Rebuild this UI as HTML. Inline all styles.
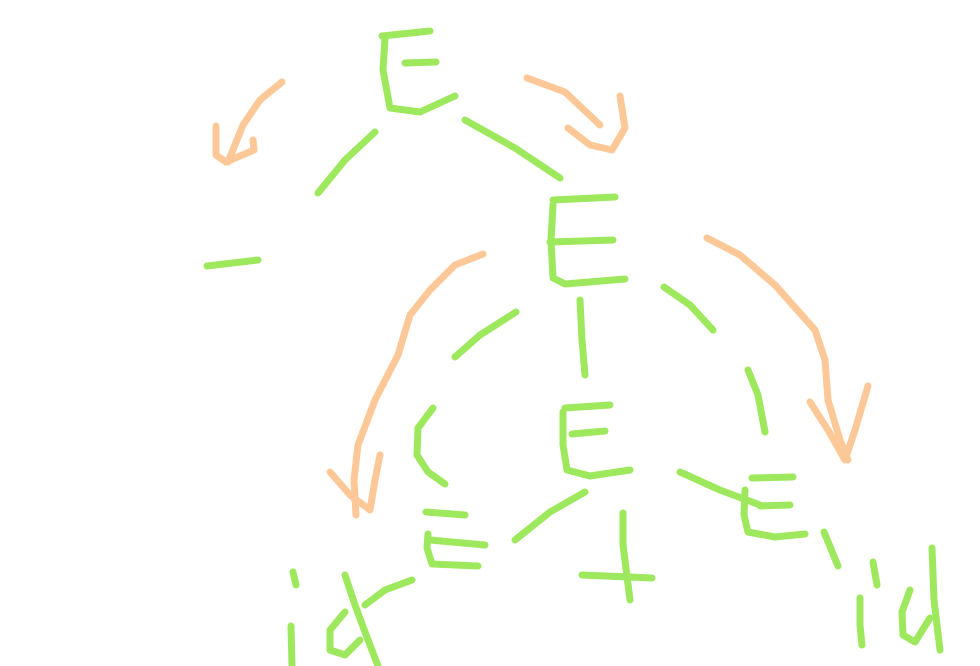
<!DOCTYPE html>
<html><head><meta charset="utf-8"><style>
html,body{margin:0;padding:0;background:#fff;width:980px;height:666px;overflow:hidden}
svg{display:block}
.g{stroke:#9ee85e;fill:none;stroke-width:7;stroke-linecap:round;stroke-linejoin:round}
.o{stroke:#fdc898;fill:none;stroke-width:7;stroke-linecap:round;stroke-linejoin:round}
.t{fill:#fff;fill-opacity:0;font-family:"Liberation Sans",sans-serif;font-size:20px}
</style></head><body>
<svg width="980" height="666" viewBox="0 0 980 666">
<g>
<text class="t" x="400" y="80">E</text>
<polyline class="g" points="382,36 430,31"/>
<polyline class="g" points="385,38 383,70 390,108 420,112 455,96"/>
<polyline class="g" points="405,63 436,62"/>
</g>
<polyline class="g" points="375,132 345,160 318,193"/>
<polyline class="g" points="465,120 515,148 560,178"/>
<g>
<polyline class="o" points="282,82 260,100 243,125 228,162"/>
<polyline class="o" points="216,126 216,155 226,162 254,150 253,140"/>
</g>
<g>
<polyline class="o" points="527,78 565,92 600,125"/>
<polyline class="o" points="568,128 590,145 612,150 625,128 620,96"/>
</g>
<g>
<text class="t" x="220" y="270">-</text>
<polyline class="g" points="207,266 258,260"/>
</g>
<g>
<text class="t" x="570" y="245">E</text>
<polyline class="g" points="553,200 615,197"/>
<polyline class="g" points="553,205 551,240 553,278 565,284 625,279"/>
<polyline class="g" points="550,242 613,240"/>
</g>
<polyline class="g" points="516,312 480,335 455,357"/>
<polyline class="g" points="580,300 582,340 585,375"/>
<polyline class="g" points="664,287 690,305 713,330"/>
<polyline class="g" points="748,370 758,395 765,432"/>
<g>
<polyline class="o" points="483,254 455,265 430,290 410,315 398,355 375,400 358,445 354,480 356,515"/>
<polyline class="o" points="330,472 350,495 370,510 375,480 380,455"/>
</g>
<g>
<polyline class="o" points="707,238 740,255 775,285 815,330 825,360 828,400 840,440 848,460"/>
<polyline class="o" points="810,402 828,430 845,460 855,430 868,386"/>
</g>
<g>
<text class="t" x="420" y="450">(</text>
<polyline class="g" points="433,408 418,428 417,455 428,472 445,484"/>
</g>
<g>
<text class="t" x="580" y="440">E</text>
<polyline class="g" points="565,408 610,405"/>
<polyline class="g" points="563,412 563,445 567,470 590,476 630,470"/>
<polyline class="g" points="572,434 605,431"/>
</g>
<polyline class="g" points="585,492 550,512 515,540"/>
<polyline class="g" points="680,472 720,490 760,505"/>
<g>
<text class="t" x="760" y="510">E</text>
<polyline class="g" points="752,478 793,477"/>
<polyline class="g" points="745,490 744,515 748,532 775,537 805,534"/>
<polyline class="g" points="760,506 790,505"/>
</g>
<g>
<text class="t" x="440" y="550">E</text>
<polyline class="g" points="426,512 465,515"/>
<polyline class="g" points="428,534 427,548 432,564 478,566"/>
<polyline class="g" points="430,540 485,545"/>
</g>
<g>
<text class="t" x="610" y="580">+</text>
<polyline class="g" points="623,513 623,545 630,600"/>
<polyline class="g" points="582,575 652,578"/>
</g>
<polyline class="g" points="824,532 838,566"/>
<g>
<text class="t" x="320" y="640">id</text>
<polyline class="g" points="293,572 296,585"/>
<polyline class="g" points="291,626 292,666"/>
<polyline class="g" points="412,580 385,590 365,605"/>
<polyline class="g" points="345,612 330,630 330,650 345,655 360,640"/>
<polyline class="g" points="345,575 355,605 365,632 378,666"/>
</g>
<g>
<text class="t" x="890" y="620">id</text>
<polyline class="g" points="873,562 877,585"/>
<polyline class="g" points="860,598 860,625 862,645"/>
<polyline class="g" points="932,548 934,600 940,650"/>
<polyline class="g" points="910,590 902,612 903,635 915,642 930,618"/>
</g>
</svg>
</body></html>
